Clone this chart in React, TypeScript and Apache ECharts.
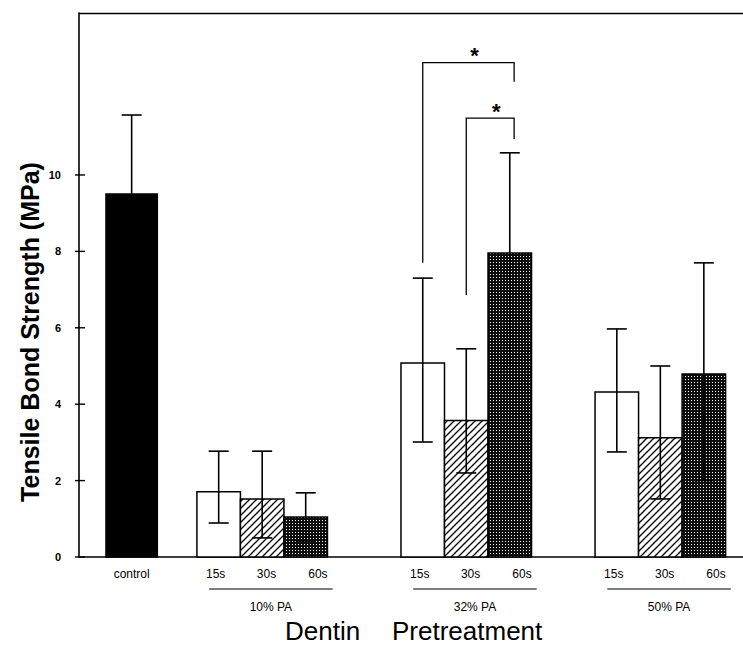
import React, { useEffect, useRef } from "react";
import * as echarts from "echarts";

// ---------- data ----------
const controlLabel = "control";
const groupLabels = ["10% PA", "32% PA", "50% PA"];
const timeLabels = ["15s", "30s", "60s"];

const controlMean = 9.5;
const controlLow = 7.45;
const controlHigh = 11.57;

const pa10Mean = [1.71, 1.52, 1.05];
const pa10Low = [0.89, 0.5, 0.42];
const pa10High = [2.77, 2.77, 1.68];

const pa32Mean = [5.08, 3.57, 7.96];
const pa32Low = [3.01, 2.2, 5.08];
const pa32High = [7.3, 5.45, 10.58];

const pa50Mean = [4.32, 3.12, 4.79];
const pa50Low = [2.75, 1.52, 2.0];
const pa50High = [5.97, 5.0, 7.7];

const yTicks = [0, 2, 4, 6, 8, 10];

// significance brackets within 32% PA: [fromTime, toTime], bracket top, left leg end, right leg end
const sigFrom = [0, 1];
const sigTo = [2, 2];
const sigTop = [12.94, 11.49];
const sigLeftEnd = [7.7, 6.86];
const sigRightEnd = [12.44, 10.94];

const xLabelMain = "Dentin";
const xLabelMain2 = "Pretreatment";
const yTitle = "Tensile Bond Strength (MPa)";

// ---------- layout (axis units) ----------
const X_MAX = 15.26;
const Y_MAX = 14.24;
const CONTROL_LEFT = 0.62;
const CONTROL_WIDTH = 1.18;
const GROUP_LEFT = [2.71, 7.4, 11.86];
const BAR_W = 1;
const LABEL_OFF = [0.43, 1.6, 2.78];
const LINE_FROM = 0.28;
const LINE_TO = 3.12;
const FONT = "'Liberation Sans', Arial, Helvetica, sans-serif";

export default function App() {
  const ref = useRef<HTMLDivElement>(null);

  useEffect(() => {
    const el = ref.current;
    if (!el) return;
    const chart = echarts.init(el, null, { renderer: "svg" });

    // patterns
    const hatch = document.createElement("canvas");
    hatch.width = 7;
    hatch.height = 7;
    {
      const c = hatch.getContext("2d")!;
      c.fillStyle = "#fff";
      c.fillRect(0, 0, 7, 7);
      c.strokeStyle = "#000";
      c.lineWidth = 1.3;
      c.beginPath();
      c.moveTo(-1, 8);
      c.lineTo(8, -1);
      c.moveTo(-2, 2);
      c.lineTo(2, -2);
      c.moveTo(5, 9);
      c.lineTo(9, 5);
      c.stroke();
    }
    const grid = document.createElement("canvas");
    grid.width = 3;
    grid.height = 3;
    {
      const c = grid.getContext("2d")!;
      c.fillStyle = "#0d0d0d";
      c.fillRect(0, 0, 3, 3);
      c.fillStyle = "#fff";
      c.fillRect(1, 1, 1, 1);
    }
    const fills: any[] = [
      "#fff",
      { image: hatch, repeat: "repeat", imageWidth: 7, imageHeight: 7 },
      { image: grid, repeat: "repeat", imageWidth: 3, imageHeight: 3 },
      "#000",
    ];

    const groupMeans = [pa10Mean, pa32Mean, pa50Mean];
    const groupLows = [pa10Low, pa32Low, pa50Low];
    const groupHighs = [pa10High, pa32High, pa50High];

    // bar data: [left, width, mean, fillIdx, low, high]
    const barData: number[][] = [
      [CONTROL_LEFT, CONTROL_WIDTH, controlMean, 3, controlLow, controlHigh],
    ];
    groupMeans.forEach((means, g) => {
      means.forEach((m, t) => {
        barData.push([GROUP_LEFT[g] + t * BAR_W, BAR_W, m, t, groupLows[g][t], groupHighs[g][t]]);
      });
    });

    // time / control labels: [x, labelIdx]
    const labelTexts: string[] = [controlLabel];
    const labelData: number[][] = [[CONTROL_LEFT + CONTROL_WIDTH / 2, 0]];
    groupLabels.forEach((_, g) => {
      timeLabels.forEach((tl, t) => {
        labelTexts.push(tl);
        labelData.push([GROUP_LEFT[g] + LABEL_OFF[t], labelTexts.length - 1]);
      });
    });

    const option: any = {
      animation: false,
      backgroundColor: "#fff",
      grid: { left: 79, right: 0, top: 13, bottom: 89 },
      xAxis: [
        {
          type: "value",
          min: 0,
          max: X_MAX,
          position: "bottom",
          axisLine: { show: true, onZero: false, lineStyle: { color: "#000", width: 1.6 } },
          axisTick: { show: false },
          axisLabel: { show: false },
          splitLine: { show: false },
        },
        {
          type: "value",
          min: 0,
          max: X_MAX,
          position: "top",
          axisLine: { show: true, onZero: false, lineStyle: { color: "#000", width: 1.4 } },
          axisTick: { show: false },
          axisLabel: { show: false },
          splitLine: { show: false },
        },
      ],
      yAxis: {
        type: "value",
        min: 0,
        max: Y_MAX,
        interval: 2,
        axisLine: { show: true, onZero: false, lineStyle: { color: "#000", width: 1.6 } },
        axisTick: { show: false },
        splitLine: { show: false },
        axisLabel: {
          margin: 18,
          color: "#000",
          fontSize: 11,
          fontWeight: "bold",
          fontFamily: FONT,
          formatter: (v: number) => (yTicks.indexOf(v) >= 0 ? String(v) : ""),
        },
      },
      graphic: [
        {
          type: "text",
          x: 30,
          y: 332,
          rotation: Math.PI / 2,
          style: {
            text: yTitle,
            fontSize: 25,
            fontWeight: "bold",
            fontFamily: FONT,
            fill: "#000",
            align: "center",
            verticalAlign: "middle",
          },
        },
        {
          type: "text",
          x: 285,
          y: 631,
          style: {
            text: xLabelMain,
            fontSize: 26,
            fontFamily: FONT,
            fill: "#000",
            align: "left",
            verticalAlign: "middle",
          },
        },
        {
          type: "text",
          x: 392,
          y: 631,
          style: {
            text: xLabelMain2,
            fontSize: 26,
            fontFamily: FONT,
            fill: "#000",
            align: "left",
            verticalAlign: "middle",
          },
        },
      ],
      series: [
        // bars
        {
          type: "custom",
          clip: false,
          data: barData,
          renderItem: (_p: any, api: any) => {
            const left = api.value(0);
            const w = api.value(1);
            const mean = api.value(2);
            const f = api.value(3);
            const p0 = api.coord([left, 0]);
            const p1 = api.coord([left + w, mean]);
            return {
              type: "rect",
              shape: { x: p0[0], y: p1[1], width: p1[0] - p0[0], height: p0[1] - p1[1] },
              style: { fill: fills[f], stroke: "#000", lineWidth: 1.5 },
            };
          },
        },
        // error bars
        {
          type: "custom",
          clip: false,
          data: barData,
          z: 3,
          renderItem: (_p: any, api: any) => {
            const cx = api.value(0) + api.value(1) / 2;
            const lo = api.coord([cx, api.value(4)]);
            const hi = api.coord([cx, api.value(5)]);
            const st = { stroke: "#000", lineWidth: 1.6 };
            return {
              type: "group",
              children: [
                { type: "line", shape: { x1: lo[0], y1: lo[1], x2: hi[0], y2: hi[1] }, style: st },
                { type: "line", shape: { x1: hi[0] - 10, y1: hi[1], x2: hi[0] + 10, y2: hi[1] }, style: st },
                { type: "line", shape: { x1: lo[0] - 10, y1: lo[1], x2: lo[0] + 10, y2: lo[1] }, style: st },
              ],
            };
          },
        },
        // y ticks crossing the axis
        {
          type: "custom",
          clip: false,
          data: yTicks.map((v) => [0, v]),
          renderItem: (_p: any, api: any) => {
            const p = api.coord([0, api.value(1)]);
            return {
              type: "line",
              shape: { x1: p[0] - 4, y1: p[1], x2: p[0] + 6, y2: p[1] },
              style: { stroke: "#000", lineWidth: 1.4 },
            };
          },
        },
        // control/time labels
        {
          type: "custom",
          clip: false,
          data: labelData,
          renderItem: (_p: any, api: any) => {
            const p = api.coord([api.value(0), 0]);
            return {
              type: "text",
              x: p[0],
              y: p[1] + 17,
              style: {
                text: labelTexts[api.value(1)],
                fontSize: 12,
                fontFamily: FONT,
                fill: "#000",
                align: "center",
                verticalAlign: "middle",
              },
            };
          },
        },
        // group underline + label
        {
          type: "custom",
          clip: false,
          data: groupLabels.map((_, g) => [g, 0]),
          renderItem: (_p: any, api: any) => {
            const g = api.value(0);
            const a = api.coord([GROUP_LEFT[g] + LINE_FROM, 0]);
            const b = api.coord([GROUP_LEFT[g] + LINE_TO, 0]);
            return {
              type: "group",
              children: [
                {
                  type: "line",
                  shape: { x1: a[0], y1: a[1] + 32, x2: b[0], y2: a[1] + 32 },
                  style: { stroke: "#000", lineWidth: 1.2 },
                },
                {
                  type: "text",
                  x: (a[0] + b[0]) / 2,
                  y: a[1] + 50,
                  style: {
                    text: groupLabels[g],
                    fontSize: 12,
                    fontFamily: FONT,
                    fill: "#000",
                    align: "center",
                    verticalAlign: "middle",
                  },
                },
              ],
            };
          },
        },
        // significance brackets (32% PA group)
        {
          type: "custom",
          clip: false,
          data: sigFrom.map((_, i) => [i, 0]),
          renderItem: (_p: any, api: any) => {
            const i = api.value(0);
            const g = 1;
            const xa = GROUP_LEFT[g] + sigFrom[i] * BAR_W + BAR_W / 2;
            const xb = GROUP_LEFT[g] + sigTo[i] * BAR_W + BAR_W / 2 + 0.1;
            const tl = api.coord([xa, sigTop[i]]);
            const tr = api.coord([xb, sigTop[i]]);
            const bl = api.coord([xa, sigLeftEnd[i]]);
            const br = api.coord([xb, sigRightEnd[i]]);
            const st = { stroke: "#000", lineWidth: 1.3, fill: "none" };
            return {
              type: "group",
              children: [
                {
                  type: "polyline",
                  shape: { points: [bl, tl, tr, br] },
                  style: st,
                },
                {
                  type: "text",
                  x: (tl[0] + tr[0]) / 2 + 6,
                  y: tl[1] - 7,
                  style: {
                    text: "*",
                    fontSize: 22,
                    fontWeight: "bold",
                    fontFamily: FONT,
                    fill: "#000",
                    align: "center",
                    verticalAlign: "middle",
                  },
                },
              ],
            };
          },
        },
      ],
    };

    chart.setOption(option);
    return () => chart.dispose();
  }, []);

  return (
    <div
      ref={ref}
      style={{ position: "fixed", left: 0, top: 0, width: 743, height: 646, background: "#fff" }}
    />
  );
}
